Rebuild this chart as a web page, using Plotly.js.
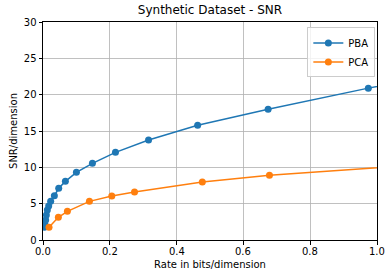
<!DOCTYPE html>
<html>
<head>
<meta charset="utf-8">
<script src="https://cdn.plot.ly/plotly-3.0.1.min.js"></script>
<style>html,body{margin:0;padding:0;background:#fff;}#chart{width:390px;height:278px;}</style>
</head>
<body>
<div id="chart"></div>
<script>
const pbaRate = [0.004, 0.006, 0.008, 0.010, 0.013, 0.017, 0.023, 0.034, 0.047, 0.067, 0.100, 0.148, 0.217, 0.316, 0.463, 0.674, 0.974, 1.35];
const pbaSNR  = [1.75, 2.06, 2.75, 3.44, 4.13, 4.68, 5.32, 6.09, 7.11, 8.07, 9.31, 10.55, 12.06, 13.75, 15.8, 17.98, 20.9, 24.0];
const pcaRate = [0.018, 0.046, 0.073, 0.139, 0.206, 0.274, 0.477, 0.678, 1.40];
const pcaSNR  = [1.75, 3.12, 3.95, 5.32, 6.05, 6.6, 7.98, 8.9, 11.2];
const xTicks = [0, 0.2, 0.4, 0.6, 0.8, 1.0];
const xTickText = ['0.0', '0.2', '0.4', '0.6', '0.8', '1.0'];
const yTicks = [0, 5, 10, 15, 20, 25, 30];

const font = {family: 'DejaVu Sans', size: 10, color: '#000'};
const traces = [
  {x: pbaRate, y: pbaSNR, name: 'PBA', mode: 'lines+markers',
   line: {color: '#1f77b4', width: 1.5}, marker: {color: '#1f77b4', size: 7}},
  {x: pcaRate, y: pcaSNR, name: 'PCA', mode: 'lines+markers',
   line: {color: '#ff7f0e', width: 1.5}, marker: {color: '#ff7f0e', size: 7}}
];
const axisCommon = {
  showline: true, linecolor: '#000', linewidth: 1, mirror: true,
  ticks: 'outside', ticklen: 3.5, tickcolor: '#000', tickwidth: 1,
  showgrid: true, gridcolor: '#b0b0b0', gridwidth: 0.8, zeroline: false,
  tickfont: font
};
// x tick labels drawn as annotations anchored to the x axis scale, so the end labels "0.0" and "1.0" are not cut
const xLabelAnnotations = xTicks.map((v, i) => ({
  x: v, xref: 'x', y: 0, yref: 'paper', yanchor: 'top', xanchor: 'center',
  yshift: -4, text: xTickText[i], showarrow: false, font: font
}));
const layout = {
  width: 390, height: 278,
  margin: {l: 43, r: 13, t: 22, b: 38},
  paper_bgcolor: '#fff', plot_bgcolor: '#fff',
  font: font,
  title: {text: 'Synthetic Dataset - SNR', font: {family: 'DejaVu Sans', size: 12, color: '#000'},
          x: 0.5, xanchor: 'center', xref: 'paper', y: 1, yref: 'container', yanchor: 'top', pad: {t: 6}},
  xaxis: Object.assign({}, axisCommon, {range: [0, 1.0], tickmode: 'array', tickvals: xTicks,
    showticklabels: false,
    title: {text: 'Rate in bits/dimension', font: font, standoff: 17}}),
  yaxis: Object.assign({}, axisCommon, {range: [0, 30], tickmode: 'array', tickvals: yTicks,
    title: {text: 'SNR/dimension', font: font, standoff: 4}}),
  annotations: xLabelAnnotations,
  legend: {x: 0.995, y: 0.975, xanchor: 'right', yanchor: 'top', bgcolor: 'rgba(255,255,255,0.8)',
    bordercolor: '#ccc', borderwidth: 1, font: font, tracegroupgap: 0, itemwidth: 30},
  showlegend: true
};
Plotly.newPlot('chart', traces, layout, {staticPlot: true, displayModeBar: false});
</script>
</body>
</html>
